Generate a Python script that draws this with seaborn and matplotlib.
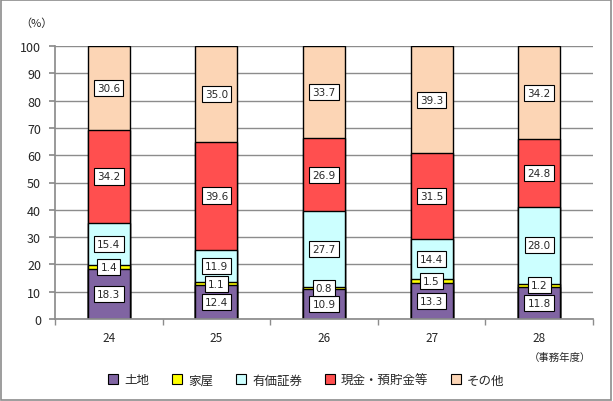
import matplotlib
matplotlib.use("Agg")
import matplotlib.pyplot as plt
import seaborn as sns
import numpy as np
import pandas as pd
from matplotlib.patches import Rectangle, Patch

years = ["24", "25", "26", "27", "28"]
series = ["土地", "家屋", "有価証券", "現金・預貯金等", "その他"]
land = [18.3, 12.4, 10.9, 13.3, 11.8]
house = [1.4, 1.1, 0.8, 1.5, 1.2]
securities = [15.4, 11.9, 27.7, 14.4, 28.0]
cash = [34.2, 39.6, 26.9, 31.5, 24.8]
other = [30.6, 35.0, 33.7, 39.3, 34.2]
colors = ["#8064A2", "#FFFF00", "#CCFFFF", "#FF4F4F", "#FCD5B5"]

sns.set_theme(style="white")
plt.rcParams["font.family"] = ["Noto Sans CJK JP", "DejaVu Sans"]

vals = np.array([land, house, securities, cash, other])
cum = np.cumsum(vals, axis=0)

fig = plt.figure(figsize=(6.13, 4.02), dpi=100)
ax = fig.add_axes([55/613, 82/402, 538/613, 273/402])

for i in range(len(series) - 1, -1, -1):
    df = pd.DataFrame({"year": years, "v": cum[i]})
    sns.barplot(data=df, x="year", y="v", color=colors[i], width=0.39,
                edgecolor="black", linewidth=1.0, saturation=1, ax=ax)

for i in range(len(series)):
    bottoms = cum[i] - vals[i]
    for j in range(len(years)):
        y = bottoms[j] + vals[i][j] / 2
        ax.text(j, y, f"{vals[i][j]:.1f}", ha="center", va="center", fontsize=7.5,
                family="DejaVu Sans", zorder=5,
                bbox=dict(boxstyle="square,pad=0.3", fc="white", ec="black", lw=0.8))

ax.set_ylim(0, 100)
ax.set_xlim(-0.5, 4.5)
ax.set_yticks(range(0, 101, 10))
ax.yaxis.grid(True, color="#8c8c8c", lw=1)
ax.set_axisbelow(True)
ax.set_xlabel("")
ax.set_ylabel("")
for s in ["top", "right"]:
    ax.spines[s].set_visible(False)
ax.spines["left"].set_color("#8c8c8c")
ax.spines["bottom"].set_color("#8c8c8c")
ax.tick_params(axis="y", length=4, color="#8c8c8c", left=True, labelsize=9, pad=6)
ax.set_xticks(range(5))
ax.set_xticklabels(years, fontsize=8.5)
ax.tick_params(axis="x", length=0, pad=9)
ax.set_xticks(np.arange(-0.5, 5, 1), minor=True)
ax.tick_params(axis="x", which="minor", length=4, color="#8c8c8c", bottom=True)

fig.text(36/613, 1 - 24/402, "（%）", fontsize=8, ha="center", va="center")
fig.text(560/613, 1 - 358/402, "（事務年度）", fontsize=7.5, ha="center", va="center")

handles = [Patch(facecolor=c, edgecolor="black", lw=0.8) for c in colors]
fig.legend(handles, series, loc="center", bbox_to_anchor=(0.5, 21/402), ncol=5,
           frameon=False, fontsize=9, handlelength=0.8, handleheight=0.8,
           handletextpad=0.5, columnspacing=1.8)

fig.patches.append(Rectangle((0.002, 0.003), 0.995, 0.994, transform=fig.transFigure,
                             fill=False, ec="#8c8c8c", lw=1.2))

fig.savefig("out.png", dpi=100)
